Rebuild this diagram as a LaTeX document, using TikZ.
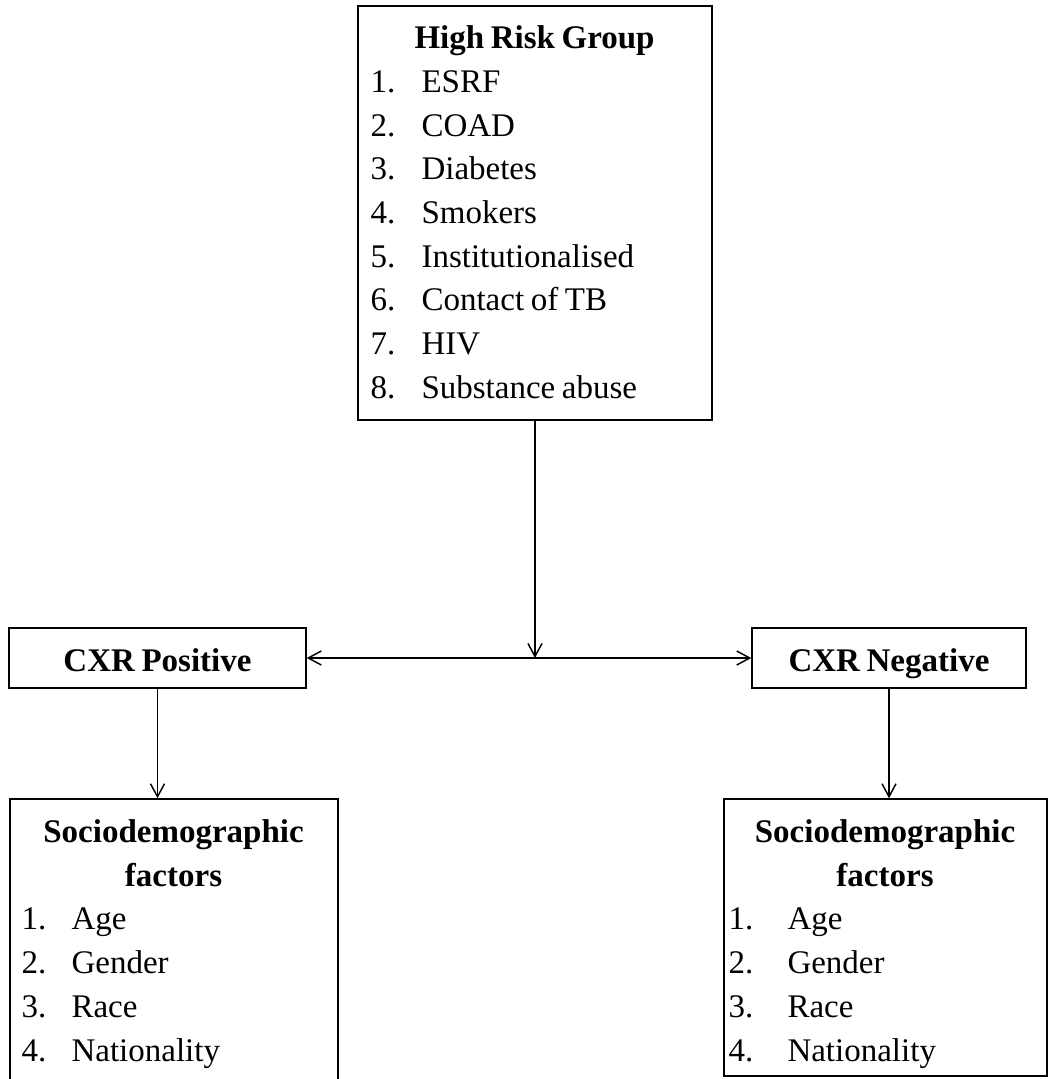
\documentclass[tikz,border=0pt]{standalone}
\usepackage{fontspec}
\setmainfont{Liberation Serif}[WordSpace=0.8]
\usetikzlibrary{arrows.meta}
\setlength{\parindent}{0pt}
\newlength{\lblw}
\newcommand{\itm}[1]{\makebox[\lblw][l]{#1}}
\newcommand{\fs}{\fontsize{24.75pt}{32.8pt}\selectfont}
\newcommand{\tightsp}{\spaceskip=0.2em\xspaceskip=0.25em\relax}
\begin{document}
\begin{tikzpicture}[x=0.75pt,y=-0.75pt,
  box/.style={draw, line width=1.1pt, rectangle, inner sep=0pt},
  txt/.style={inner sep=0pt, anchor=north west, align=left, font=\fs},
  cxr/.style={font=\fs\bfseries, text height=19.5pt, text depth=0pt},
  tip/.tip={Straight Barb[length=9.75pt,width=10.5pt,line width=1.1pt]},
  arr/.style={-tip, line width=1.1pt},
  darr/.style={tip-tip, line width=1.1pt}]
\useasboundingbox (0,0) rectangle (1049,1079);
% boxes
\node[box, minimum width=265.5pt, minimum height=310.5pt] (hrg) at (535,213) {};
\node[box, cxr, minimum width=222.75pt, minimum height=45pt] (pos) at (157.5,658) {CXR Positive};
\node[box, cxr, minimum width=205.5pt, minimum height=45pt] (neg) at (889,658) {CXR Negative};
\node[box, minimum width=246pt, minimum height=218.25pt] (socl) at (174,944.5) {};
\node[box, minimum width=242.25pt, minimum height=207.75pt] (socr) at (885.5,937.5) {};
% texts
\node[txt, text width=246pt] (hrgt) at ([xshift=9.75pt,yshift=-9.3pt]hrg.north west)
  {\tightsp\setlength{\lblw}{38.25pt}{\centering\strut\textbf{High Risk Group}\par}%
   \itm{1.}ESRF\par\itm{2.}COAD\par\itm{3.}Diabetes\par\itm{4.}Smokers\par
   \itm{5.}Institutionalised\par\itm{6.}Contact of TB\par\itm{7.}HIV\par
   \itm{8.}Substance abuse};
\node[txt, text width=228pt] (soclt) at ([xshift=9pt,yshift=-10pt]socl.north west)
  {\tightsp\setlength{\lblw}{37.5pt}{\centering\strut\textbf{Sociodemographic}\par\textbf{factors}\par}%
   \itm{1.}Age\par\itm{2.}Gender\par\itm{3.}Race\par\itm{4.}Nationality};
\node[txt, text width=234.75pt] (socrt) at ([xshift=3.75pt,yshift=-10pt]socr.north west)
  {\tightsp\setlength{\lblw}{44.25pt}{\centering\strut\textbf{Sociodemographic}\par\textbf{factors}\par}%
   \itm{1.}Age\par\itm{2.}Gender\par\itm{3.}Race\par\itm{4.}Nationality};
% connectors
\coordinate (j) at (hrg.south |- pos.east);
\draw[arr] (hrg.south) -- (j);
\draw[darr] (pos.east) -- (neg.west);
\draw[arr] (pos.south) -- (pos.south |- socl.north);
\draw[arr] (neg.south) -- (neg.south |- socr.north);
\end{tikzpicture}
\end{document}
